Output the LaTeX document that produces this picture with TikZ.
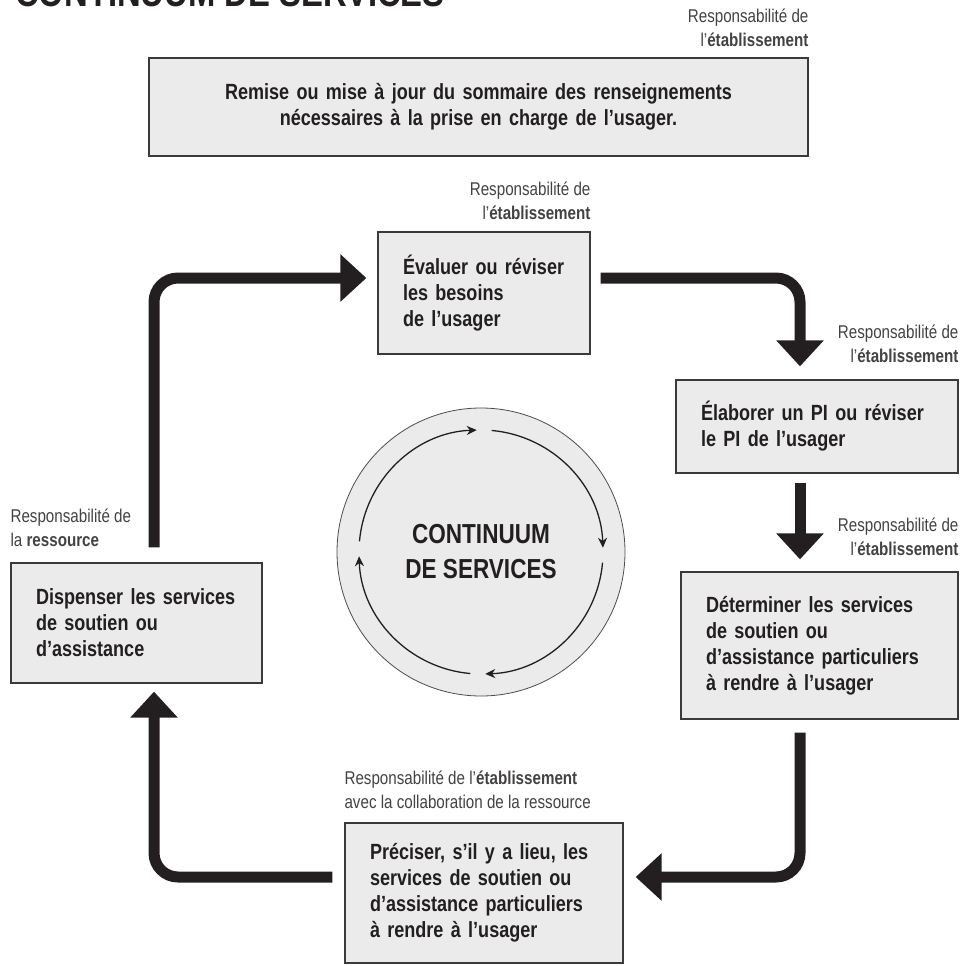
\documentclass[tikz,border=0pt]{standalone}
\usepackage{fontspec}
\setmainfont{Liberation Sans}[FakeStretch=0.82]
\usepackage{tikz}
\usetikzlibrary{positioning, arrows.meta, calc}

\definecolor{encre}{HTML}{231F20}
\definecolor{fondboite}{HTML}{EBEBEB}
\definecolor{bordboite}{HTML}{3A3A3A}

\begin{document}
\begin{tikzpicture}[
        x=1pt, y=-1pt,
        box/.style 2 args={draw=bordboite, line width=1.3pt, fill=fondboite,
            text width=#1, minimum height=#2, inner xsep=25pt, inner ysep=0pt,
            align=left, text=encre, font=\fontsize{22}{26}\selectfont\bfseries},
        resp/.style={inner sep=0pt, text=encre!85,
            font=\fontsize{18.5}{24}\selectfont},
        flow/.style={line width=11pt, draw=encre, rounded corners=24pt,
            -{Triangle[length=26pt, width=46pt]}},
        cyc/.style={line width=1.3pt, draw=encre,
            -{Stealth[length=10pt, width=9pt]}},
    ]
    \useasboundingbox (0,0) rectangle (962,966);

    % titre (coupe en haut)
    \node[anchor=base west, inner sep=0pt, text=encre,
        font=\fontsize{40}{44}\selectfont\bfseries] (titre) at (15,7)
        {CONTINUUM DE SERVICES};

    % =============================================
    % ETAPES
    % =============================================
    \node[box={609pt}{98pt}, align=center] (sommaire) at (478.5,107)
        {Remise ou mise à jour du sommaire des renseignements\\
         nécessaires à la prise en charge de l’usager.};
    \node[box={162pt}{122pt}] (evaluer)    at (484,293)
        {Évaluer ou réviser\\les besoins\\de l’usager};
    \node[box={232pt}{93pt}]  (elaborer)   at (817,426.5)
        {Élaborer un PI ou réviser\\le PI de l’usager};
    \node[box={227pt}{147pt}] (determiner) at (819.5,645.5)
        {Déterminer les services\\de soutien ou\\d’assistance particuliers\\à rendre à l’usager};
    \node[box={228pt}{140pt}] (preciser)   at (484,893)
        {Préciser, s’il y a lieu, les\\services de soutien ou\\d’assistance particuliers\\à rendre à l’usager};
    \node[box={201pt}{120pt}] (dispenser)  at (136.5,623)
        {Dispenser les services\\de soutien ou\\d’assistance};

    % responsabilites
    \node[resp, anchor=south east, align=right] (resp0)
        at ($(sommaire.north east)+(0,-10)$) {Responsabilité de\\l’\textbf{établissement}};
    \node[resp, anchor=south east, align=right] (resp1)
        at ($(evaluer.north east)+(0,-11)$) {Responsabilité de\\l’\textbf{établissement}};
    \node[resp, anchor=south east, align=right] (resp2)
        at ($(elaborer.north east)+(0,-16)$) {Responsabilité de\\l’\textbf{établissement}};
    \node[resp, anchor=south east, align=right] (resp3)
        at ($(determiner.north east)+(0,-15)$) {Responsabilité de\\l’\textbf{établissement}};
    \node[resp, anchor=south west, align=left] (resp4)
        at ($(dispenser.north west)+(0,-15)$) {Responsabilité de\\la \textbf{ressource}};
    \node[resp, anchor=south west, align=left] (resp5)
        at ($(preciser.north west)+(0,-13)$)
        {Responsabilité de l’\textbf{établissement}\\avec la collaboration de la ressource};

    % =============================================
    % CERCLE CENTRAL
    % =============================================
    \node[circle, draw=encre!80, line width=0.8pt, fill=fondboite,
        minimum size=288pt, inner sep=0pt] (cercle) at (481,552) {};
    \node[align=center, text=encre, font=\fontsize{27.5}{35}\selectfont\bfseries]
        (continuum) at (cercle.center) {CONTINUUM\\DE SERVICES};
    \foreach \a in {-175,-85,5,95}
        \draw[cyc] ($(cercle.center)+(\a:122)$)
            arc[start angle=\a, end angle=\a+83, radius=122];

    % =============================================
    % FLECHES DU CYCLE
    % =============================================
    \draw[flow] ($(evaluer.east)+(10,-15)$) -| ($(elaborer.north)+(-17,-13)$);
    \draw[flow] ($(elaborer.south)+(-17,9)$) -- ($(determiner.north)+(-19.5,-12)$);
    \draw[flow] ($(determiner.south)+(-19.5,13)$) |- ($(preciser.east)+(12,-16)$);
    \draw[flow] ($(preciser.west)+(-12,-16)$) -| ($(dispenser.south)+(17.5,8)$);
    \draw[flow] ($(dispenser.north)+(17.5,-15)$) |- ($(evaluer.west)+(-11,-15)$);

\end{tikzpicture}
\end{document}
